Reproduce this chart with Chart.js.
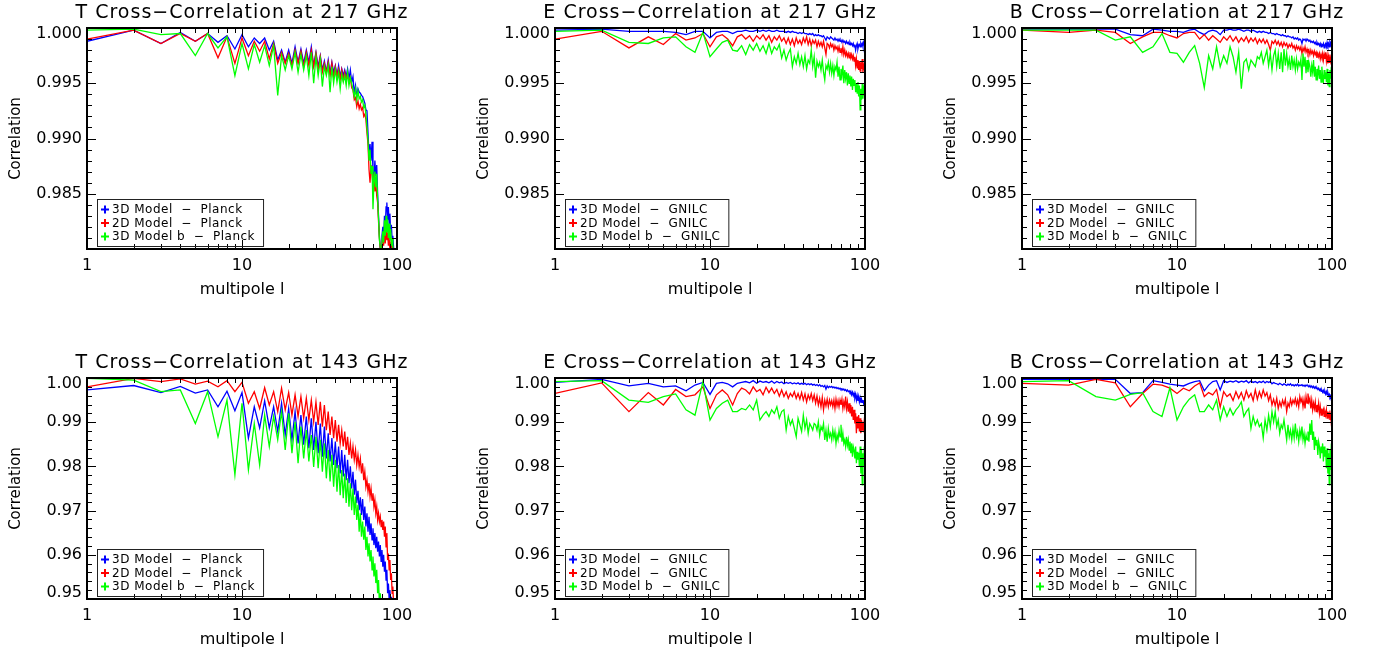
<!DOCTYPE html>
<html lang="en">
<head>
    <meta charset="UTF-8">
    <title>Cross-Correlation at 217 and 143 GHz</title>
    <script src="https://cdn.jsdelivr.net/npm/chart.js"></script>
    <style>
        body {
            margin: 0;
            background: #fff;
            width: 1373px;
            height: 653px;
            position: relative;
            overflow: hidden;
        }
        canvas {
            position: absolute;
        }
    </style>
</head>
<body>
    <canvas id="c0" width="450" height="303" style="left:0px;top:0px"></canvas>
    <canvas id="c1" width="450" height="303" style="left:468px;top:0px"></canvas>
    <canvas id="c2" width="450" height="303" style="left:935px;top:0px"></canvas>
    <canvas id="c3" width="450" height="303" style="left:0px;top:350px"></canvas>
    <canvas id="c4" width="450" height="303" style="left:468px;top:350px"></canvas>
    <canvas id="c5" width="450" height="303" style="left:935px;top:350px"></canvas>

    <script>
        // multipoles
        const ells = [
            1, 2, 3, 4, 5, 6, 7, 8, 9, 10, 11, 12, 13, 14, 15, 16, 17, 18, 19, 20,
            21, 22, 23, 24, 25, 26, 27, 28, 29, 30, 31, 32, 33, 34, 35, 36, 37, 38, 39, 40,
            41, 42, 43, 44, 45, 46, 47, 48, 49, 50, 51, 52, 53, 54, 55, 56, 57, 58, 59, 60,
            61, 62, 63, 64, 65, 66, 67, 68, 69, 70, 71, 72, 73, 74, 75, 76, 77, 78, 79, 80,
            81, 82, 83, 84, 85, 86, 87, 88, 89, 90, 91, 92, 93, 94, 95, 96, 97, 98, 99, 100
        ];

        // ---- 217 GHz ----
        const t217Blue = [
            0.9988, 0.9998, 0.9986, 0.9996, 0.9988, 0.9995, 0.9987, 0.9993, 0.9981, 0.9994,
            0.9983, 0.9991, 0.9986, 0.9991, 0.9980, 0.9988, 0.9971, 0.9980, 0.9969, 0.9980,
            0.9968, 0.9983, 0.9969, 0.9981, 0.9968, 0.9980, 0.9969, 0.9983, 0.9966, 0.9978,
            0.9965, 0.9975, 0.9962, 0.9970, 0.9960, 0.9971, 0.9959, 0.9969, 0.9960, 0.9966,
            0.9957, 0.9966, 0.9956, 0.9963, 0.9957, 0.9962, 0.9956, 0.9963, 0.9954, 0.9962,
            0.9951, 0.9956, 0.9941, 0.9948, 0.9938, 0.9945, 0.9942, 0.9941, 0.9939, 0.9938,
            0.9935, 0.9932, 0.9926, 0.9925, 0.9905, 0.9885, 0.9895, 0.9880, 0.9897, 0.9870,
            0.9862, 0.9880, 0.9866, 0.9876, 0.9850, 0.9830, 0.9812, 0.9800, 0.9795, 0.9812,
            0.9820, 0.9808, 0.9830, 0.9818, 0.9838, 0.9842, 0.9826, 0.9838, 0.9822, 0.9832,
            0.9815, 0.9822, 0.9808, 0.9812, 0.9802, 0.9795, 0.9785, 0.9770, 0.9760, 0.9750
        ];
        const t217Red = [
            0.9990, 0.9998, 0.9986, 0.9995, 0.9988, 0.9995, 0.9973, 0.9992, 0.9968, 0.9991,
            0.9975, 0.9988, 0.9979, 0.9988, 0.9972, 0.9986, 0.9968, 0.9978, 0.9968, 0.9977,
            0.9966, 0.9980, 0.9968, 0.9979, 0.9965, 0.9978, 0.9966, 0.9980, 0.9965, 0.9977,
            0.9962, 0.9974, 0.9960, 0.9968, 0.9959, 0.9969, 0.9957, 0.9968, 0.9955, 0.9965,
            0.9956, 0.9963, 0.9953, 0.9962, 0.9953, 0.9960, 0.9953, 0.9959, 0.9951, 0.9955,
            0.9946, 0.9944, 0.9935, 0.9937, 0.9929, 0.9934, 0.9927, 0.9931, 0.9926, 0.9928,
            0.9920, 0.9922, 0.9917, 0.9905, 0.9895, 0.9872, 0.9860, 0.9876, 0.9868, 0.9858,
            0.9864, 0.9852, 0.9860, 0.9848, 0.9842, 0.9825, 0.9810, 0.9800, 0.9802, 0.9798,
            0.9812, 0.9803, 0.9818, 0.9805, 0.9822, 0.9808, 0.9815, 0.9803, 0.9812, 0.9800,
            0.9806, 0.9798, 0.9803, 0.9796, 0.9790, 0.9780, 0.9770, 0.9760, 0.9750, 0.9740
        ];
        const t217Green = [
            0.9998, 0.9999, 0.9994, 0.9995, 0.9975, 0.9995, 0.9982, 0.9992, 0.9957, 0.9986,
            0.9963, 0.9985, 0.9969, 0.9984, 0.9966, 0.9984, 0.9939, 0.9975, 0.9962, 0.9975,
            0.9963, 0.9978, 0.9960, 0.9976, 0.9962, 0.9975, 0.9957, 0.9978, 0.9950, 0.9974,
            0.9957, 0.9971, 0.9947, 0.9965, 0.9957, 0.9966, 0.9942, 0.9965, 0.9950, 0.9962,
            0.9951, 0.9960, 0.9945, 0.9958, 0.9951, 0.9957, 0.9948, 0.9960, 0.9948, 0.9955,
            0.9950, 0.9944, 0.9938, 0.9945, 0.9935, 0.9943, 0.9936, 0.9938, 0.9933, 0.9935,
            0.9928, 0.9930, 0.9922, 0.9910, 0.9898, 0.9880, 0.9890, 0.9868, 0.9875, 0.9836,
            0.9860, 0.9870, 0.9856, 0.9868, 0.9845, 0.9828, 0.9808, 0.9802, 0.9799, 0.9808,
            0.9816, 0.9806, 0.9826, 0.9812, 0.9830, 0.9815, 0.9827, 0.9810, 0.9823, 0.9808,
            0.9818, 0.9803, 0.9810, 0.9800, 0.9795, 0.9790, 0.9780, 0.9770, 0.9760, 0.9750
        ];

        const e217Blue = [
            0.9998, 0.9999, 0.9997, 0.9997, 0.9997, 0.9996, 0.9994, 0.9997, 0.9997, 0.9991,
            0.9996, 0.9997, 0.9997, 0.9995, 0.9997, 0.9997, 0.9998, 0.9997, 0.9997, 0.9998,
            0.9997, 0.9998, 0.9997, 0.9998, 0.9997, 0.9997, 0.9998, 0.9997, 0.9997, 0.9997,
            0.9996, 0.9997, 0.9996, 0.9997, 0.9996, 0.9996, 0.9995, 0.9996, 0.9995, 0.9996,
            0.9995, 0.9995, 0.9994, 0.9995, 0.9994, 0.9995, 0.9993, 0.9994, 0.9993, 0.9994,
            0.9993, 0.9993, 0.9992, 0.9993, 0.9991, 0.9989, 0.9992, 0.9991, 0.9990, 0.9992,
            0.9991, 0.9990, 0.9989, 0.9991, 0.9989, 0.9990, 0.9988, 0.9990, 0.9988, 0.9989,
            0.9987, 0.9989, 0.9987, 0.9988, 0.9986, 0.9988, 0.9986, 0.9987, 0.9985, 0.9987,
            0.9985, 0.9986, 0.9984, 0.9986, 0.9983, 0.9985, 0.9980, 0.9984, 0.9986, 0.9981,
            0.9984, 0.9985, 0.9983, 0.9986, 0.9984, 0.9986, 0.9983, 0.9987, 0.9985, 0.9986
        ];
        const e217Red = [
            0.9990, 0.9997, 0.9982, 0.9992, 0.9985, 0.9995, 0.9989, 0.9991, 0.9995, 0.9983,
            0.9992, 0.9994, 0.9990, 0.9984, 0.9992, 0.9994, 0.9990, 0.9993, 0.9988, 0.9993,
            0.9990, 0.9994, 0.9989, 0.9993, 0.9987, 0.9992, 0.9989, 0.9993, 0.9988, 0.9991,
            0.9986, 0.9991, 0.9985, 0.9990, 0.9984, 0.9991, 0.9986, 0.9989, 0.9985, 0.9991,
            0.9987, 0.9992, 0.9985, 0.9990, 0.9984, 0.9989, 0.9986, 0.9989, 0.9983, 0.9988,
            0.9984, 0.9987, 0.9983, 0.9988, 0.9982, 0.9976, 0.9986, 0.9985, 0.9982, 0.9986,
            0.9983, 0.9985, 0.9980, 0.9984, 0.9981, 0.9983, 0.9979, 0.9983, 0.9978, 0.9982,
            0.9977, 0.9983, 0.9976, 0.9980, 0.9975, 0.9978, 0.9974, 0.9977, 0.9973, 0.9978,
            0.9973, 0.9976, 0.9972, 0.9975, 0.9970, 0.9974, 0.9966, 0.9972, 0.9964, 0.9971,
            0.9962, 0.9970, 0.9961, 0.9969, 0.9963, 0.9972, 0.9960, 0.9968, 0.9962, 0.9970
        ];
        const e217Green = [
            0.9997, 0.9998, 0.9987, 0.9986, 0.9991, 0.9992, 0.9983, 0.9978, 0.9996, 0.9974,
            0.9981, 0.9987, 0.9989, 0.9980, 0.9979, 0.9984, 0.9976, 0.9985, 0.9980, 0.9986,
            0.9979, 0.9984, 0.9977, 0.9986, 0.9977, 0.9983, 0.9980, 0.9985, 0.9973, 0.9980,
            0.9971, 0.9977, 0.9981, 0.9965, 0.9974, 0.9968, 0.9977, 0.9967, 0.9974, 0.9965,
            0.9975, 0.9963, 0.9971, 0.9968, 0.9980, 0.9965, 0.9974, 0.9955, 0.9970, 0.9965,
            0.9969, 0.9962, 0.9971, 0.9960, 0.9953, 0.9966, 0.9963, 0.9969, 0.9960, 0.9968,
            0.9959, 0.9966, 0.9957, 0.9965, 0.9962, 0.9969, 0.9956, 0.9965, 0.9953, 0.9963,
            0.9957, 0.9966, 0.9950, 0.9962, 0.9954, 0.9960, 0.9948, 0.9959, 0.9950, 0.9957,
            0.9947, 0.9956, 0.9944, 0.9954, 0.9948, 0.9953, 0.9942, 0.9950, 0.9941, 0.9951,
            0.9938, 0.9948, 0.9926, 0.9945, 0.9935, 0.9950, 0.9936, 0.9948, 0.9939, 0.9947
        ];

        const b217Blue = [
            0.9999, 0.9999, 0.9999, 0.9999, 0.9994, 0.9993, 0.9999, 0.9998, 0.9997, 0.9997,
            0.9996, 0.9998, 0.9999, 0.9996, 0.9994, 0.9997, 0.9998, 0.9997, 0.9994, 0.9998,
            0.9998, 0.9999, 0.9998, 0.9998, 0.9999, 0.9998, 0.9997, 0.9998, 0.9998, 0.9997,
            0.9998, 0.9997, 0.9996, 0.9997, 0.9996, 0.9997, 0.9996, 0.9996, 0.9995, 0.9996,
            0.9995, 0.9995, 0.9994, 0.9995, 0.9994, 0.9994, 0.9993, 0.9994, 0.9993, 0.9993,
            0.9992, 0.9993, 0.9992, 0.9992, 0.9991, 0.9992, 0.9990, 0.9991, 0.9990, 0.9991,
            0.9989, 0.9990, 0.9989, 0.9986, 0.9990, 0.9989, 0.9990, 0.9988, 0.9990, 0.9989,
            0.9988, 0.9989, 0.9987, 0.9988, 0.9987, 0.9988, 0.9986, 0.9987, 0.9985, 0.9987,
            0.9985, 0.9986, 0.9984, 0.9986, 0.9983, 0.9985, 0.9984, 0.9986, 0.9982, 0.9985,
            0.9986, 0.9983, 0.9987, 0.9984, 0.9986, 0.9983, 0.9987, 0.9985, 0.9988, 0.9986
        ];
        const b217Red = [
            0.9998, 0.9996, 0.9998, 0.9996, 0.9986, 0.9992, 0.9996, 0.9996, 0.9993, 0.9991,
            0.9995, 0.9996, 0.9996, 0.9990, 0.9994, 0.9989, 0.9993, 0.9990, 0.9987, 0.9992,
            0.9989, 0.9993, 0.9988, 0.9992, 0.9987, 0.9991, 0.9988, 0.9992, 0.9987, 0.9991,
            0.9988, 0.9991, 0.9986, 0.9990, 0.9987, 0.9990, 0.9986, 0.9989, 0.9985, 0.9980,
            0.9988, 0.9986, 0.9989, 0.9985, 0.9988, 0.9984, 0.9987, 0.9983, 0.9987, 0.9984,
            0.9986, 0.9982, 0.9985, 0.9983, 0.9986, 0.9982, 0.9984, 0.9980, 0.9984, 0.9981,
            0.9983, 0.9980, 0.9983, 0.9977, 0.9982, 0.9979, 0.9983, 0.9978, 0.9981, 0.9977,
            0.9980, 0.9976, 0.9980, 0.9977, 0.9979, 0.9975, 0.9979, 0.9976, 0.9978, 0.9973,
            0.9977, 0.9974, 0.9977, 0.9972, 0.9976, 0.9973, 0.9977, 0.9971, 0.9976, 0.9972,
            0.9978, 0.9970, 0.9975, 0.9968, 0.9974, 0.9969, 0.9976, 0.9970, 0.9973, 0.9971
        ];
        const b217Green = [
            0.9998, 0.9998, 0.9998, 0.9989, 0.9992, 0.9978, 0.9983, 0.9995, 0.9978, 0.9977,
            0.9969, 0.9978, 0.9984, 0.9968, 0.9946, 0.9975, 0.9963, 0.9983, 0.9965, 0.9975,
            0.9968, 0.9983, 0.9974, 0.9960, 0.9978, 0.9945, 0.9969, 0.9972, 0.9962, 0.9971,
            0.9968, 0.9965, 0.9974, 0.9972, 0.9978, 0.9968, 0.9974, 0.9980, 0.9966, 0.9977,
            0.9962, 0.9975, 0.9980, 0.9965, 0.9977, 0.9963, 0.9978, 0.9960, 0.9981, 0.9966,
            0.9977, 0.9965, 0.9972, 0.9962, 0.9975, 0.9965, 0.9971, 0.9962, 0.9972, 0.9963,
            0.9969, 0.9966, 0.9972, 0.9953, 0.9977, 0.9965, 0.9974, 0.9959, 0.9971, 0.9960,
            0.9969, 0.9965, 0.9956, 0.9966, 0.9960, 0.9971, 0.9956, 0.9965, 0.9953, 0.9963,
            0.9957, 0.9966, 0.9954, 0.9962, 0.9951, 0.9965, 0.9956, 0.9950, 0.9962, 0.9954,
            0.9960, 0.9951, 0.9963, 0.9948, 0.9959, 0.9947, 0.9962, 0.9954, 0.9965, 0.9956
        ];

        // ---- 143 GHz ----
        const t143Blue = [
            0.9973, 0.9983, 0.9967, 0.9981, 0.9966, 0.9973, 0.9935, 0.9970, 0.9926, 0.9967,
            0.9864, 0.9935, 0.9887, 0.9948, 0.9887, 0.9935, 0.9879, 0.9943, 0.9871, 0.9931,
            0.9860, 0.9924, 0.9852, 0.9916, 0.9849, 0.9913, 0.9841, 0.9909, 0.9837, 0.9901,
            0.9830, 0.9897, 0.9822, 0.9890, 0.9818, 0.9875, 0.9811, 0.9864, 0.9803, 0.9856,
            0.9796, 0.9845, 0.9784, 0.9837, 0.9777, 0.9826, 0.9769, 0.9815, 0.9762, 0.9800,
            0.9750, 0.9788, 0.9736, 0.9770, 0.9717, 0.9745, 0.9701, 0.9730, 0.9690, 0.9726,
            0.9679, 0.9709, 0.9664, 0.9694, 0.9652, 0.9686, 0.9645, 0.9671, 0.9634, 0.9660,
            0.9622, 0.9649, 0.9615, 0.9641, 0.9607, 0.9630, 0.9596, 0.9622, 0.9585, 0.9611,
            0.9573, 0.9600, 0.9562, 0.9585, 0.9543, 0.9566, 0.9513, 0.9535, 0.9500, 0.9520,
            0.9490, 0.9505, 0.9480, 0.9470, 0.9460, 0.9450, 0.9440, 0.9430, 0.9420, 0.9410
        ];
        const t143Red = [
            0.9980, 0.9999, 0.9992, 0.9998, 0.9986, 0.9993, 0.9980, 0.9994, 0.9969, 0.9990,
            0.9943, 0.9969, 0.9931, 0.9978, 0.9939, 0.9969, 0.9924, 0.9977, 0.9928, 0.9967,
            0.9916, 0.9962, 0.9913, 0.9958, 0.9909, 0.9954, 0.9905, 0.9950, 0.9901, 0.9946,
            0.9894, 0.9946, 0.9890, 0.9939, 0.9882, 0.9924, 0.9871, 0.9913, 0.9864, 0.9905,
            0.9856, 0.9894, 0.9852, 0.9882, 0.9845, 0.9879, 0.9837, 0.9867, 0.9826, 0.9852,
            0.9818, 0.9845, 0.9815, 0.9837, 0.9803, 0.9826, 0.9799, 0.9818, 0.9784, 0.9807,
            0.9769, 0.9788, 0.9754, 0.9769, 0.9743, 0.9762, 0.9732, 0.9750, 0.9724, 0.9739,
            0.9709, 0.9724, 0.9694, 0.9709, 0.9679, 0.9694, 0.9675, 0.9686, 0.9664, 0.9679,
            0.9656, 0.9675, 0.9641, 0.9664, 0.9618, 0.9649, 0.9588, 0.9603, 0.9566, 0.9588,
            0.9543, 0.9558, 0.9513, 0.9528, 0.9490, 0.9480, 0.9470, 0.9460, 0.9450, 0.9440
        ];
        const t143Green = [
            0.9999, 0.9995, 0.9969, 0.9973, 0.9897, 0.9969, 0.9867, 0.9950, 0.9781, 0.9943,
            0.9792, 0.9897, 0.9803, 0.9916, 0.9845, 0.9913, 0.9860, 0.9924, 0.9837, 0.9920,
            0.9830, 0.9901, 0.9807, 0.9890, 0.9818, 0.9882, 0.9811, 0.9871, 0.9799, 0.9867,
            0.9796, 0.9860, 0.9788, 0.9852, 0.9773, 0.9837, 0.9766, 0.9826, 0.9754, 0.9815,
            0.9743, 0.9803, 0.9735, 0.9792, 0.9728, 0.9784, 0.9717, 0.9773, 0.9709, 0.9762,
            0.9701, 0.9750, 0.9690, 0.9732, 0.9679, 0.9713, 0.9652, 0.9694, 0.9641, 0.9675,
            0.9634, 0.9664, 0.9611, 0.9641, 0.9596, 0.9626, 0.9585, 0.9611, 0.9566, 0.9596,
            0.9551, 0.9581, 0.9536, 0.9566, 0.9513, 0.9543, 0.9490, 0.9513, 0.9480, 0.9495,
            0.9470, 0.9480, 0.9460, 0.9470, 0.9450, 0.9460, 0.9440, 0.9450, 0.9430, 0.9440,
            0.9420, 0.9430, 0.9410, 0.9420, 0.9400, 0.9410, 0.9390, 0.9400, 0.9380, 0.9390
        ];

        const e143Blue = [
            0.9990, 0.9997, 0.9982, 0.9988, 0.9980, 0.9982, 0.9971, 0.9984, 0.9990, 0.9963,
            0.9988, 0.9990, 0.9987, 0.9980, 0.9988, 0.9990, 0.9992, 0.9989, 0.9994, 0.9988,
            0.9993, 0.9990, 0.9992, 0.9989, 0.9993, 0.9988, 0.9992, 0.9989, 0.9991, 0.9987,
            0.9990, 0.9988, 0.9990, 0.9987, 0.9989, 0.9987, 0.9989, 0.9986, 0.9988, 0.9986,
            0.9988, 0.9985, 0.9987, 0.9985, 0.9987, 0.9984, 0.9986, 0.9983, 0.9985, 0.9982,
            0.9985, 0.9981, 0.9983, 0.9980, 0.9983, 0.9975, 0.9982, 0.9978, 0.9981, 0.9979,
            0.9981, 0.9978, 0.9980, 0.9977, 0.9979, 0.9976, 0.9978, 0.9975, 0.9977, 0.9974,
            0.9976, 0.9973, 0.9975, 0.9972, 0.9974, 0.9970, 0.9973, 0.9969, 0.9971, 0.9967,
            0.9970, 0.9962, 0.9968, 0.9960, 0.9966, 0.9955, 0.9963, 0.9950, 0.9960, 0.9948,
            0.9958, 0.9946, 0.9955, 0.9944, 0.9952, 0.9945, 0.9950, 0.9942, 0.9948, 0.9940
        ];
        const e143Red = [
            0.9965, 0.9989, 0.9924, 0.9967, 0.9939, 0.9974, 0.9958, 0.9962, 0.9980, 0.9931,
            0.9962, 0.9973, 0.9962, 0.9939, 0.9965, 0.9977, 0.9973, 0.9964, 0.9980, 0.9969,
            0.9974, 0.9962, 0.9979, 0.9967, 0.9977, 0.9965, 0.9974, 0.9959, 0.9973, 0.9958,
            0.9969, 0.9954, 0.9965, 0.9958, 0.9969, 0.9954, 0.9965, 0.9952, 0.9967, 0.9950,
            0.9964, 0.9946, 0.9962, 0.9952, 0.9965, 0.9949, 0.9962, 0.9943, 0.9959, 0.9939,
            0.9954, 0.9935, 0.9956, 0.9928, 0.9950, 0.9937, 0.9952, 0.9935, 0.9950, 0.9939,
            0.9949, 0.9935, 0.9950, 0.9931, 0.9952, 0.9937, 0.9949, 0.9935, 0.9950, 0.9939,
            0.9952, 0.9931, 0.9946, 0.9935, 0.9958, 0.9931, 0.9946, 0.9924, 0.9943, 0.9920,
            0.9939, 0.9913, 0.9935, 0.9905, 0.9928, 0.9897, 0.9920, 0.9875, 0.9913, 0.9886,
            0.9916, 0.9879, 0.9909, 0.9875, 0.9905, 0.9882, 0.9901, 0.9888, 0.9905, 0.9897
        ];
        const e143Green = [
            0.9992, 0.9994, 0.9950, 0.9945, 0.9958, 0.9964, 0.9928, 0.9916, 0.9992, 0.9905,
            0.9931, 0.9943, 0.9950, 0.9924, 0.9924, 0.9931, 0.9928, 0.9939, 0.9928, 0.9950,
            0.9905, 0.9916, 0.9924, 0.9913, 0.9928, 0.9920, 0.9935, 0.9909, 0.9924, 0.9928,
            0.9882, 0.9913, 0.9894, 0.9905, 0.9886, 0.9867, 0.9909, 0.9894, 0.9879, 0.9916,
            0.9886, 0.9905, 0.9875, 0.9897, 0.9890, 0.9882, 0.9897, 0.9894, 0.9882, 0.9901,
            0.9871, 0.9890, 0.9882, 0.9897, 0.9860, 0.9882, 0.9856, 0.9886, 0.9867, 0.9875,
            0.9860, 0.9882, 0.9864, 0.9879, 0.9852, 0.9871, 0.9860, 0.9882, 0.9867, 0.9894,
            0.9856, 0.9875, 0.9852, 0.9860, 0.9845, 0.9867, 0.9848, 0.9860, 0.9837, 0.9856,
            0.9830, 0.9852, 0.9822, 0.9845, 0.9837, 0.9818, 0.9845, 0.9807, 0.9833, 0.9815,
            0.9830, 0.9799, 0.9845, 0.9784, 0.9837, 0.9758, 0.9830, 0.9799, 0.9845, 0.9815
        ];

        const b143Blue = [
            0.9997, 0.9997, 0.9997, 0.9997, 0.9965, 0.9967, 0.9994, 0.9990, 0.9986, 0.9984,
            0.9982, 0.9988, 0.9992, 0.9994, 0.9971, 0.9984, 0.9992, 0.9994, 0.9973, 0.9994,
            0.9990, 0.9993, 0.9991, 0.9994, 0.9990, 0.9993, 0.9991, 0.9994, 0.9989, 0.9993,
            0.9990, 0.9992, 0.9989, 0.9992, 0.9990, 0.9993, 0.9989, 0.9992, 0.9990, 0.9992,
            0.9987, 0.9990, 0.9988, 0.9987, 0.9985, 0.9988, 0.9986, 0.9984, 0.9987, 0.9985,
            0.9983, 0.9986, 0.9984, 0.9987, 0.9983, 0.9985, 0.9982, 0.9985, 0.9983, 0.9986,
            0.9982, 0.9984, 0.9983, 0.9985, 0.9982, 0.9984, 0.9981, 0.9984, 0.9982, 0.9983,
            0.9980, 0.9983, 0.9979, 0.9982, 0.9978, 0.9981, 0.9977, 0.9980, 0.9976, 0.9978,
            0.9974, 0.9977, 0.9972, 0.9975, 0.9970, 0.9973, 0.9968, 0.9972, 0.9966, 0.9970,
            0.9964, 0.9969, 0.9962, 0.9967, 0.9960, 0.9963, 0.9955, 0.9958, 0.9950, 0.9946
        ];
        const b143Red = [
            0.9988, 0.9984, 0.9997, 0.9989, 0.9935, 0.9965, 0.9986, 0.9984, 0.9977, 0.9965,
            0.9977, 0.9971, 0.9982, 0.9989, 0.9958, 0.9967, 0.9962, 0.9974, 0.9934, 0.9969,
            0.9958, 0.9964, 0.9949, 0.9969, 0.9954, 0.9967, 0.9950, 0.9971, 0.9956, 0.9965,
            0.9949, 0.9973, 0.9952, 0.9969, 0.9956, 0.9973, 0.9959, 0.9967, 0.9949, 0.9962,
            0.9939, 0.9952, 0.9937, 0.9954, 0.9931, 0.9946, 0.9935, 0.9950, 0.9939, 0.9952,
            0.9924, 0.9943, 0.9935, 0.9952, 0.9939, 0.9950, 0.9943, 0.9954, 0.9939, 0.9950,
            0.9935, 0.9958, 0.9946, 0.9954, 0.9935, 0.9952, 0.9931, 0.9958, 0.9943, 0.9965,
            0.9946, 0.9954, 0.9931, 0.9950, 0.9928, 0.9943, 0.9931, 0.9946, 0.9924, 0.9939,
            0.9928, 0.9943, 0.9920, 0.9935, 0.9916, 0.9931, 0.9920, 0.9928, 0.9913, 0.9924,
            0.9916, 0.9928, 0.9909, 0.9924, 0.9913, 0.9920, 0.9905, 0.9916, 0.9897, 0.9901
        ];
        const b143Green = [
            0.9992, 0.9994, 0.9958, 0.9950, 0.9963, 0.9967, 0.9924, 0.9913, 0.9978, 0.9905,
            0.9935, 0.9952, 0.9962, 0.9924, 0.9924, 0.9939, 0.9928, 0.9950, 0.9905, 0.9935,
            0.9913, 0.9931, 0.9916, 0.9928, 0.9935, 0.9946, 0.9913, 0.9924, 0.9931, 0.9886,
            0.9913, 0.9894, 0.9905, 0.9890, 0.9897, 0.9864, 0.9905, 0.9882, 0.9916, 0.9890,
            0.9924, 0.9901, 0.9924, 0.9890, 0.9905, 0.9875, 0.9894, 0.9886, 0.9905, 0.9882,
            0.9860, 0.9894, 0.9867, 0.9882, 0.9860, 0.9886, 0.9864, 0.9897, 0.9867, 0.9879,
            0.9856, 0.9882, 0.9867, 0.9890, 0.9860, 0.9875, 0.9852, 0.9871, 0.9860, 0.9879,
            0.9856, 0.9897, 0.9871, 0.9905, 0.9860, 0.9879, 0.9837, 0.9867, 0.9848, 0.9860,
            0.9826, 0.9856, 0.9845, 0.9818, 0.9845, 0.9830, 0.9852, 0.9811, 0.9845, 0.9822,
            0.9837, 0.9796, 0.9841, 0.9784, 0.9830, 0.9758, 0.9837, 0.9792, 0.9852, 0.9822
        ];

        // legend texts, titles, tick marks
        const planckLabels = ['3D Model  \u2212  Planck', '2D Model  \u2212  Planck', '3D Model b  \u2212  Planck'];
        const gnilcLabels = ['3D Model  \u2212  GNILC', '2D Model  \u2212  GNILC', '3D Model b  \u2212  GNILC'];
        const titles = [
            'T Cross\u2212Correlation at 217 GHz', 'E Cross\u2212Correlation at 217 GHz', 'B Cross\u2212Correlation at 217 GHz',
            'T Cross\u2212Correlation at 143 GHz', 'E Cross\u2212Correlation at 143 GHz', 'B Cross\u2212Correlation at 143 GHz'
        ];
        const xMajorTicks = [1, 10, 100];
        const xMinorTicks = [2, 3, 4, 5, 6, 7, 8, 9, 20, 30, 40, 50, 60, 70, 80, 90];
        const yTicks217 = [0.985, 0.990, 0.995, 1.000];
        const yTicks143 = [0.95, 0.96, 0.97, 0.98, 0.99, 1.00];

        const colors = ['#0000ff', '#ff0000', '#00ff00'];
        const FONT = 'DejaVu Sans';

        const range217 = { min: 0.98, max: 1.0, minorStep: 0.001, majorEvery: 5, labels: yTicks217, digits: 3 };
        const range143 = { min: 0.95, max: 1.0, minorStep: 0.002, majorEvery: 5, labels: yTicks143, digits: 2 };

        // IDL-like frame: inward ticks on all sides, tick labels, title and legend
        const idlPlugin = {
            id: 'idl',
            afterDatasetsDraw(chart, args, o) {
                const ctx = chart.ctx;
                const a = chart.chartArea;
                const x = chart.scales.x;
                const y = chart.scales.y;
                const r = o.range;
                ctx.save();

                // ticks
                ctx.strokeStyle = '#000';
                ctx.lineWidth = 1;
                ctx.beginPath();
                const n = Math.round((r.max - r.min) / r.minorStep);
                for (let i = 0; i <= n; i++) {
                    const py = Math.round(y.getPixelForValue(r.min + i * r.minorStep)) + 0.5;
                    const len = i % r.majorEvery === 0 ? 9 : 5;
                    ctx.moveTo(a.left, py); ctx.lineTo(a.left + len, py);
                    ctx.moveTo(a.right, py); ctx.lineTo(a.right - len, py);
                }
                xMajorTicks.concat(xMinorTicks).forEach(v => {
                    const px = Math.round(x.getPixelForValue(v)) + 0.5;
                    const len = xMajorTicks.includes(v) ? 9 : 5;
                    ctx.moveTo(px, a.bottom); ctx.lineTo(px, a.bottom - len);
                    ctx.moveTo(px, a.top); ctx.lineTo(px, a.top + len);
                });
                ctx.stroke();

                // frame
                ctx.lineWidth = 2;
                ctx.strokeRect(a.left, a.top, a.right - a.left, a.bottom - a.top);

                // y tick labels (end labels pulled inside, like IDL)
                ctx.fillStyle = '#000';
                ctx.font = '16px "' + FONT + '"';
                ctx.textAlign = 'right';
                ctx.textBaseline = 'middle';
                r.labels.forEach(v => {
                    let py = y.getPixelForValue(v);
                    if (py < a.top + 3) py += 6;
                    if (py > a.bottom - 3) py -= 6;
                    ctx.fillText(v.toFixed(r.digits), a.left - 5, py);
                });

                // title
                ctx.font = '19px "' + FONT + '"';
                ctx.textAlign = 'center';
                ctx.letterSpacing = '1px';
                ctx.fillText(o.title, (a.left + a.right) / 2, 13);

                // legend box
                ctx.font = '12px "' + FONT + '"';
                ctx.letterSpacing = '0.5px';
                const ds = chart.data.datasets;
                const tw = Math.max(...ds.map(d => ctx.measureText(d.label).width));
                const bx = a.left + 10;
                const by = a.bottom - 50;
                ctx.strokeStyle = '#222';
                ctx.lineWidth = 1;
                ctx.strokeRect(bx + 0.5, by + 0.5, tw + 23, 47);
                ctx.textAlign = 'left';
                ds.forEach((d, i) => {
                    const cy = by + 10.5 + i * 13.5;
                    ctx.strokeStyle = d.borderColor;
                    ctx.lineWidth = 2;
                    ctx.beginPath();
                    ctx.moveTo(bx + 4, cy); ctx.lineTo(bx + 12, cy);
                    ctx.moveTo(bx + 8, cy - 4); ctx.lineTo(bx + 8, cy + 4);
                    ctx.stroke();
                    ctx.fillStyle = '#000';
                    ctx.fillText(d.label, bx + 15, cy + 0.5);
                });
                ctx.letterSpacing = '0px';
                ctx.restore();
            }
        };

        function makePanel(id, title, series, labels, range) {
            const datasets = series.map((s, i) => ({
                label: labels[i],
                data: ells.map((l, k) => ({ x: l, y: s[k] })),
                borderColor: colors[i],
                borderWidth: 1.3,
                pointRadius: 0,
                fill: false,
                tension: 0,
                order: 2 - i
            }));
            return new Chart(document.getElementById(id), {
                type: 'line',
                data: { datasets: datasets },
                plugins: [idlPlugin],
                options: {
                    responsive: false,
                    animation: false,
                    events: [],
                    layout: { padding: { top: 28, right: 53, bottom: 0, left: 0 } },
                    plugins: {
                        legend: { display: false },
                        tooltip: { enabled: false },
                        idl: { title: title, range: range }
                    },
                    scales: {
                        x: {
                            type: 'logarithmic',
                            min: 1,
                            max: 100,
                            afterBuildTicks: s => { s.ticks = xMajorTicks.map(v => ({ value: v })); },
                            afterFit: s => { s.height = 54; },
                            grid: { display: false, drawTicks: false },
                            border: { display: false },
                            ticks: {
                                color: '#000',
                                font: { family: FONT, size: 16 },
                                padding: 7,
                                maxRotation: 0,
                                autoSkip: false,
                                callback: v => String(v)
                            },
                            title: {
                                display: true,
                                text: 'multipole l',
                                color: '#000',
                                font: { family: FONT, size: 16 },
                                padding: { top: 0, bottom: 4 }
                            }
                        },
                        y: {
                            min: range.min,
                            max: range.max,
                            afterFit: s => { s.width = 87; },
                            grid: { display: false, drawTicks: false },
                            border: { display: false },
                            ticks: { display: false },
                            title: {
                                display: true,
                                text: 'Correlation',
                                color: '#000',
                                font: { family: FONT, size: 15 },
                                padding: { top: 7, bottom: 0 }
                            }
                        }
                    }
                }
            });
        }

        makePanel('c0', titles[0], [t217Blue, t217Red, t217Green], planckLabels, range217);
        makePanel('c1', titles[1], [e217Blue, e217Red, e217Green], gnilcLabels, range217);
        makePanel('c2', titles[2], [b217Blue, b217Red, b217Green], gnilcLabels, range217);
        makePanel('c3', titles[3], [t143Blue, t143Red, t143Green], planckLabels, range143);
        makePanel('c4', titles[4], [e143Blue, e143Red, e143Green], gnilcLabels, range143);
        makePanel('c5', titles[5], [b143Blue, b143Red, b143Green], gnilcLabels, range143);
    </script>
</body>
</html>
